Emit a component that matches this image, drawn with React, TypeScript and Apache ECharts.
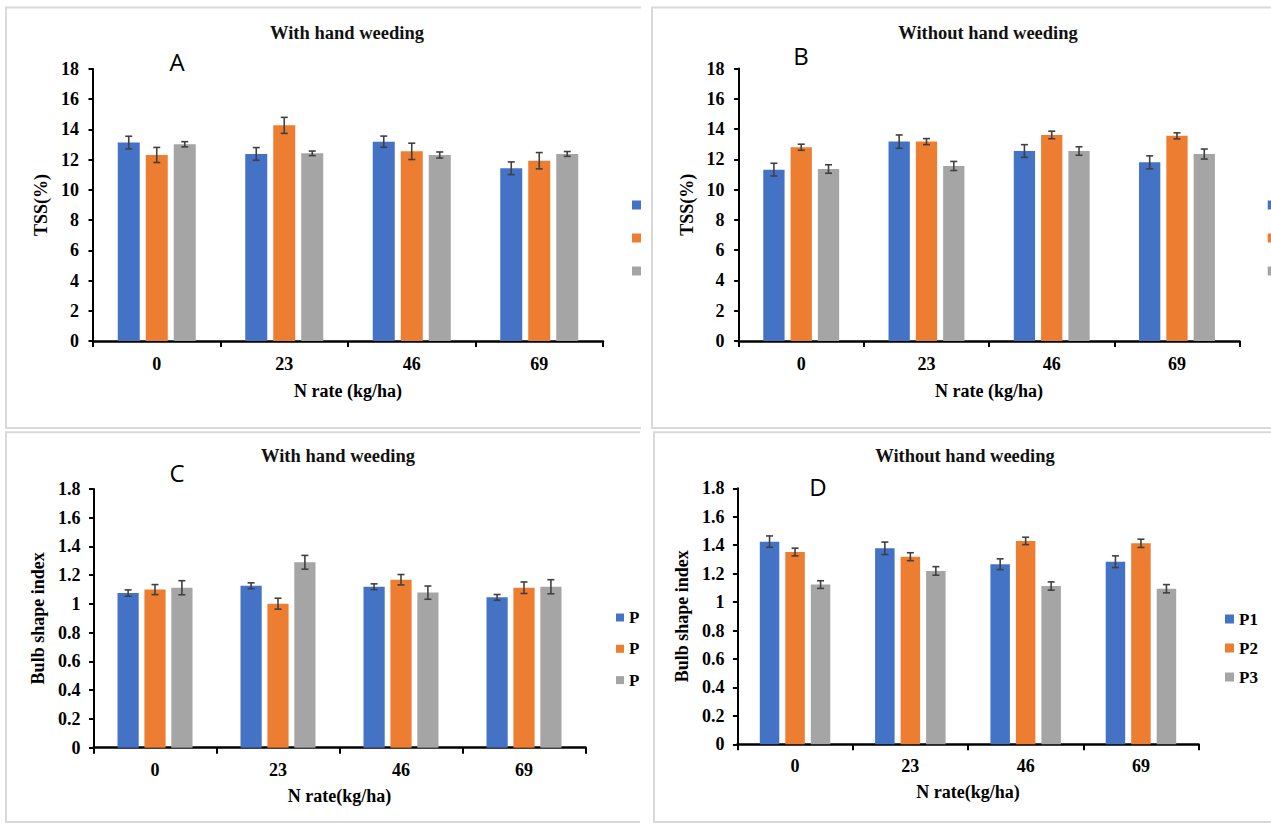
import React, { useEffect, useRef } from 'react';
import * as echarts from 'echarts';

// ---------- data ----------
const categories = ['0', '23', '46', '69'];
const seriesNames = ['P1', 'P2', 'P3'];

// A: TSS, with hand weeding
const tssWithP1 = [13.13, 12.38, 13.19, 11.43];
const tssWithP2 = [12.31, 14.27, 12.55, 11.93];
const tssWithP3 = [13.02, 12.42, 12.31, 12.38];
const tssWithErrP1 = [0.42, 0.42, 0.37, 0.42];
const tssWithErrP2 = [0.5, 0.53, 0.54, 0.54];
const tssWithErrP3 = [0.17, 0.15, 0.2, 0.16];

// B: TSS, without hand weeding
const tssWithoutP1 = [11.32, 13.17, 12.55, 11.8];
const tssWithoutP2 = [12.8, 13.17, 13.61, 13.55];
const tssWithoutP3 = [11.36, 11.56, 12.55, 12.35];
const tssWithoutErrP1 = [0.42, 0.44, 0.42, 0.43];
const tssWithoutErrP2 = [0.2, 0.2, 0.25, 0.2];
const tssWithoutErrP3 = [0.28, 0.3, 0.28, 0.33];

// C: bulb shape index, with hand weeding
const bsiWithP1 = [1.076, 1.127, 1.12, 1.046];
const bsiWithP2 = [1.1, 1.002, 1.169, 1.113];
const bsiWithP3 = [1.113, 1.29, 1.079, 1.12];
const bsiWithErrP1 = [0.022, 0.02, 0.02, 0.02];
const bsiWithErrP2 = [0.035, 0.038, 0.036, 0.04];
const bsiWithErrP3 = [0.049, 0.048, 0.046, 0.049];

// D: bulb shape index, without hand weeding
const bsiWithoutP1 = [1.425, 1.378, 1.266, 1.284];
const bsiWithoutP2 = [1.352, 1.319, 1.43, 1.413];
const bsiWithoutP3 = [1.123, 1.219, 1.113, 1.094];
const bsiWithoutErrP1 = [0.04, 0.044, 0.038, 0.041];
const bsiWithoutErrP2 = [0.027, 0.028, 0.026, 0.029];
const bsiWithoutErrP3 = [0.027, 0.03, 0.029, 0.029];

const colors = ['#4472C4', '#ED7D31', '#A5A5A5'];
const SERIF = '"Liberation Serif", "Times New Roman", serif';
const SANS = '"Open Sans", "Noto Sans", sans-serif';

const panels = [
  {
    key: 'A', letter: 'A', title: 'With hand weeding',
    means: [tssWithP1, tssWithP2, tssWithP3], errs: [tssWithErrP1, tssWithErrP2, tssWithErrP3],
    yName: 'TSS(%)', xName: 'N rate (kg/ha)', max: 18, interval: 2,
    div: { left: 0, top: 0, width: 641, height: 430 },
    grid: { left: 93, top: 69, width: 510, height: 272 },
    border: { x: 6, y: 7.5, width: 900, height: 420.5 },
    titlePos: [347, 33], letterPos: [177, 61],
    legend: { left: 632, top: 196, itemGap: 15, icon: 9 },
    barWidth: 22, gap: 6,
    xNameGap: 41, yNameGap: 40.5, xLabelMargin: 14, yLabelMargin: 14,
  },
  {
    key: 'B', letter: 'B', title: 'Without hand weeding',
    means: [tssWithoutP1, tssWithoutP2, tssWithoutP3], errs: [tssWithoutErrP1, tssWithoutErrP2, tssWithoutErrP3],
    yName: 'TSS(%)', xName: 'N rate (kg/ha)', max: 18, interval: 2,
    div: { left: 641, top: 0, width: 630, height: 430 },
    grid: { left: 97.6, top: 68.5, width: 501, height: 272.5 },
    border: { x: 11, y: 7.5, width: 900, height: 420.5 },
    titlePos: [347, 33], letterPos: [160, 55],
    legend: { left: 626.7, top: 196, itemGap: 15, icon: 9 },
    barWidth: 21.3, gap: 6,
    xNameGap: 41, yNameGap: 39.5, xLabelMargin: 14, yLabelMargin: 14,
  },
  {
    key: 'C', letter: 'C', title: 'With hand weeding',
    means: [bsiWithP1, bsiWithP2, bsiWithP3], errs: [bsiWithErrP1, bsiWithErrP2, bsiWithErrP3],
    yName: 'Bulb shape index', xName: 'N rate(kg/ha)', max: 1.8, interval: 0.2,
    div: { left: 0, top: 430, width: 640, height: 394 },
    grid: { left: 93.5, top: 59, width: 492, height: 258.7 },
    border: { x: 6, y: 2.3, width: 900, height: 389.7 },
    titlePos: [338, 26], letterPos: [177, 42],
    legend: { left: 616, top: 178.5, itemGap: 13.3, icon: 8 },
    barWidth: 21.2, gap: 5.7,
    xNameGap: 39, yNameGap: 43, xLabelMargin: 13, yLabelMargin: 13,
  },
  {
    key: 'D', letter: 'D', title: 'Without hand weeding',
    means: [bsiWithoutP1, bsiWithoutP2, bsiWithoutP3], errs: [bsiWithoutErrP1, bsiWithoutErrP2, bsiWithoutErrP3],
    yName: 'Bulb shape index', xName: 'N rate(kg/ha)', max: 1.8, interval: 0.2,
    div: { left: 640, top: 430, width: 631, height: 394 },
    grid: { left: 97.4, top: 58.3, width: 461.2, height: 256 },
    border: { x: 14, y: 2.3, width: 900, height: 389.7 },
    titlePos: [325, 26], letterPos: [178, 56],
    legend: { left: 585, top: 180, itemGap: 11, icon: 9 },
    barWidth: 19.5, gap: 6,
    xNameGap: 38.4, yNameGap: 41.4, xLabelMargin: 12.5, yLabelMargin: 13,
  },
];

function buildOption(p: any) {
  const step = p.barWidth + p.gap;
  const bars = p.means.map((m: number[], i: number) => ({
    name: seriesNames[i],
    type: 'bar',
    data: m,
    barWidth: p.barWidth,
    barGap: (p.gap / p.barWidth) * 100 + '%',
    itemStyle: { color: colors[i] },
    z: 2,
  }));
  const errSeries = p.means.map((m: number[], i: number) => ({
    name: seriesNames[i] + ' error',
    type: 'custom',
    silent: true,
    z: 5,
    encode: { x: 0, y: [1, 2] },
    data: m.map((v: number, j: number) => [j, v - p.errs[i][j], v + p.errs[i][j]]),
    renderItem: (params: any, api: any) => {
      const c = api.value(0);
      const lo = api.coord([c, api.value(1)]);
      const hi = api.coord([c, api.value(2)]);
      const x = lo[0] + (i - 1) * step;
      const style = { stroke: '#404040', lineWidth: 1.6 };
      const cap = 3.5;
      return {
        type: 'group',
        children: [
          { type: 'line', shape: { x1: x, y1: lo[1], x2: x, y2: hi[1] }, style },
          { type: 'line', shape: { x1: x - cap, y1: lo[1], x2: x + cap, y2: lo[1] }, style },
          { type: 'line', shape: { x1: x - cap, y1: hi[1], x2: x + cap, y2: hi[1] }, style },
        ],
      };
    },
  }));
  const axisText = { color: '#000', fontFamily: SERIF, fontWeight: 'bold', fontSize: 18 };
  return {
    animation: false,
    grid: { ...p.grid, containLabel: false },
    legend: {
      data: seriesNames,
      orient: 'vertical',
      left: p.legend.left,
      top: p.legend.top,
      itemGap: p.legend.itemGap,
      itemWidth: p.legend.icon,
      itemHeight: p.legend.icon,
      icon: 'rect',
      padding: 0,
      selectedMode: false,
      textStyle: { color: '#000', fontFamily: SERIF, fontWeight: 'bold', fontSize: 17, lineHeight: 18 },
    },
    xAxis: {
      type: 'category',
      data: categories,
      name: p.xName,
      nameLocation: 'middle',
      nameGap: p.xNameGap,
      nameTextStyle: { ...axisText, fontSize: 18 },
      axisLine: { show: true, lineStyle: { color: '#000', width: 2.5 } },
      axisTick: { show: true, length: 6, lineStyle: { color: '#000', width: 2 } },
      axisLabel: { ...axisText, margin: p.xLabelMargin },
      splitLine: { show: false },
    },
    yAxis: {
      type: 'value',
      min: 0,
      max: p.max,
      interval: p.interval,
      name: p.yName,
      nameLocation: 'middle',
      nameGap: p.yNameGap,
      nameTextStyle: { ...axisText, fontSize: 18 },
      axisLine: { show: true, lineStyle: { color: '#000', width: 2 } },
      axisTick: { show: true, length: 4.5, lineStyle: { color: '#000', width: 2 } },
      axisLabel: { ...axisText, margin: p.yLabelMargin },
      splitLine: { show: false },
    },
    graphic: [
      {
        type: 'rect', silent: true, z: 0,
        shape: { ...p.border },
        style: { fill: 'none', stroke: '#d9d9d9', lineWidth: 2 },
      },
      {
        type: 'text', silent: true, z: 10,
        x: p.titlePos[0], y: p.titlePos[1],
        style: {
          text: p.title, fill: '#111', font: `bold 18.5px ${SERIF}`,
          textAlign: 'center', textVerticalAlign: 'middle',
        },
      },
      {
        type: 'text', silent: true, z: 10,
        x: p.letterPos[0], y: p.letterPos[1],
        style: {
          text: p.letter, fill: '#000', font: `24px ${SANS}`,
          textAlign: 'center', textVerticalAlign: 'middle',
        },
      },
    ],
    series: [...bars, ...errSeries],
  };
}

function Panel({ p }: { p: any }) {
  const ref = useRef<HTMLDivElement>(null);
  useEffect(() => {
    if (!ref.current) return;
    const chart = echarts.init(ref.current, undefined, { renderer: 'svg' });
    chart.setOption(buildOption(p));
    return () => chart.dispose();
  }, [p]);
  return (
    <div
      ref={ref}
      style={{
        position: 'fixed',
        left: p.div.left,
        top: p.div.top,
        width: p.div.width,
        height: p.div.height,
        overflow: 'hidden',
        background: '#fff',
      }}
    />
  );
}

export default function App() {
  return (
    <div style={{ position: 'fixed', left: 0, top: 0, width: 1271, height: 824, background: '#fff' }}>
      {panels.map((p) => (
        <Panel key={p.key} p={p} />
      ))}
    </div>
  );
}
